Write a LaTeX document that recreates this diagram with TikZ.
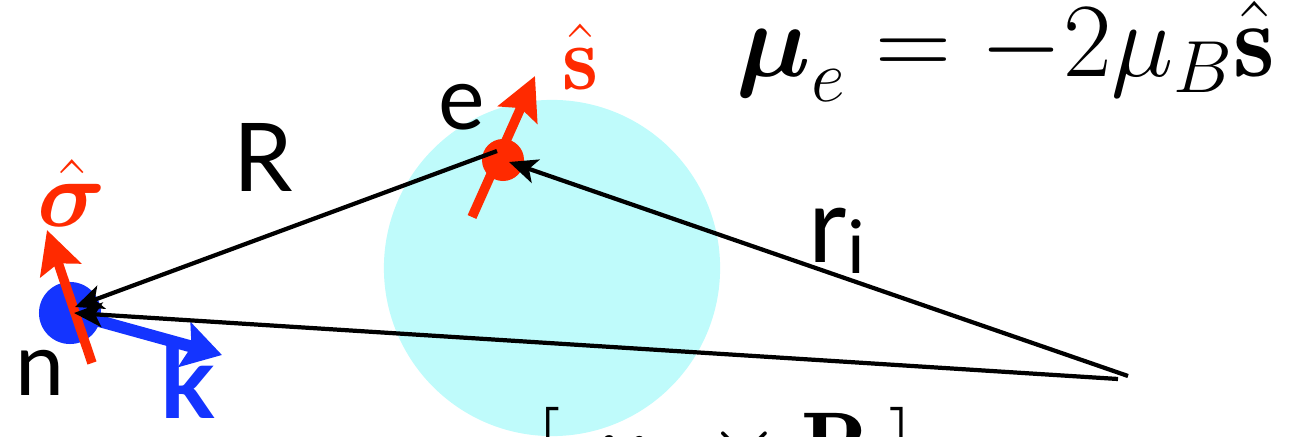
\RequirePackage{fix-cm}
\documentclass[tikz,border=0pt]{standalone}
\usepackage{amsmath}
\usepackage{fontspec}
\newfontfamily\labelfont{Lato}
\usetikzlibrary{arrows.meta}
\definecolor{spinred}{RGB}{255,42,0}
\definecolor{kblue}{RGB}{20,52,255}
\definecolor{cloudcyan}{RGB}{191,251,251}
\tikzset{
  vec/.style={line width=1.2pt,-{Stealth[length=8pt,width=7pt,inset=2pt]}},
  spin/.style={spinred,line width=2.7pt,-{Stealth[length=12pt,width=12pt,inset=2pt]}},
  lbl/.style={font=\labelfont\fontsize{25}{30}\selectfont,anchor=base,inner sep=0pt}
}
\begin{document}
\begin{tikzpicture}[x=0.01cm,y=-0.01cm,line join=round]
  \useasboundingbox (0,0) rectangle (1289,437);
  \fill[cloudcyan] (552,268) circle[radius=1.68cm];
  % nucleus and electron
  \fill[kblue] (70,313) circle[radius=0.31cm];
  \fill[spinred] (503,160) circle[radius=0.21cm];
  \coordinate (n) at (70,313);
  \coordinate (e) at (503,160);
  \coordinate (nR) at (75,307);
  \coordinate (nr) at (74,313);
  \coordinate (eR) at (497,151);
  \coordinate (er) at (509,162);
  \coordinate (p) at (1118,379);
  \coordinate (pr) at (1128,376);
  \coordinate (kt) at (222,355);
  \coordinate (sigb) at (92,363);
  \coordinate (sigt) at (47,230);
  \coordinate (sb) at (472,217);
  \coordinate (st) at (535,76);
  \draw[kblue,line width=3.4pt,-{Stealth[length=11pt,width=13pt,inset=2pt]}] (n) -- (kt);
  \draw[spin] (sigb) -- (sigt);
  \draw[spin] (sb) -- (st);
  \draw[vec] (eR) -- (nR);
  \draw[vec] (p) -- (nr);
  \draw[vec] (pr) -- (er);
  % labels
  \node[lbl,font=\labelfont\fontsize{27}{32}\selectfont] (Rlab) at (263,192) {R};
  \node[lbl] (nlab) at (40,395) {n};
  \node[lbl] (elab) at (462,130) {e};
  \node[lbl,kblue,font=\labelfont\bfseries\fontsize{29}{34}\selectfont] (klab) at (188,418) {k};
  \node[lbl,anchor=base west,font=\labelfont\fontsize{30}{36}\selectfont] (rlab) at (808,263)
    {r{\fontsize{21}{25}\selectfont\raisebox{-3pt}{i}}};
  \node[lbl,spinred,font=\fontsize{27}{32}\selectfont] (siglab) at (72,227) {$\hat{\boldsymbol{\sigma}}$};
  \node[lbl,spinred,font=\fontsize{26}{31}\selectfont] (slab) at (580,90) {$\hat{\mathbf{s}}$};
  \node[lbl,font=\fontsize{30}{36}\selectfont] (mulab) at (1006,77)
    {$\boldsymbol{\mu}_e=-2\mu_B\hat{\mathbf{s}}$};
  \node[lbl,anchor=base west,font=\fontsize{27}{32}\selectfont] (crosslab) at (536,478)
    {$[\;\boldsymbol{\mu}_e\times\mathbf{R}\,]$};
\end{tikzpicture}
\end{document}
